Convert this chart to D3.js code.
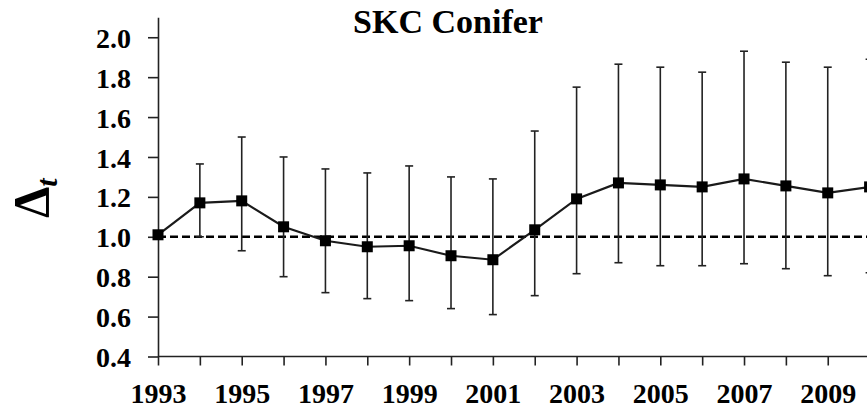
<!DOCTYPE html>
<html>
<head>
<meta charset="utf-8">
<script src="https://cdn.jsdelivr.net/npm/d3@7"></script>
<style>
  body { margin: 0; background: #fff; }
  svg { display: block; font-family: "Liberation Serif", "Times New Roman", serif; }
  .axis path, .axis line { stroke: #222; stroke-width: 1.6px; }
  .axis text { font-size: 28px; font-weight: bold; fill: #000; }
</style>
</head>
<body>
<div id="chart"></div>
<script>
// years on the x axis
var years = [1993, 1994, 1995, 1996, 1997, 1998, 1999, 2000, 2001, 2002,
  2003, 2004, 2005, 2006, 2007, 2008, 2009, 2010];
// Delta_t values
var delta = [1.01, 1.17, 1.18, 1.05, 0.98, 0.95, 0.955, 0.905, 0.885, 1.035,
  1.19, 1.27, 1.26, 1.25, 1.29, 1.255, 1.22, 1.25];
// error bar ends
var upper = [1.01, 1.365, 1.50, 1.40, 1.34, 1.32, 1.355, 1.30, 1.29, 1.53,
  1.75, 1.865, 1.85, 1.825, 1.93, 1.875, 1.85, 1.89];
var lower = [1.01, 1.00, 0.93, 0.80, 0.72, 0.69, 0.68, 0.64, 0.61, 0.705,
  0.815, 0.87, 0.855, 0.855, 0.865, 0.84, 0.805, 0.82];
// y tick labels
var yTicks = [0.4, 0.6, 0.8, 1.0, 1.2, 1.4, 1.6, 1.8, 2.0];
var baseline = 1.0;
var title = "SKC Conifer";

var w = 867, h = 408;
var serif = '"Liberation Serif", "Times New Roman", serif';

var svg = d3.select("#chart").append("svg")
  .attr("width", w)
  .attr("height", h);

var x = d3.scaleLinear().domain([1993, 2010]).range([158, 869.6]);
var y = d3.scaleLinear().domain([0.4, 2.1]).range([356.5, 17.3]);

var data = years.map(function(d, i) {
  return { year: d, v: delta[i], hi: upper[i], lo: lower[i] };
});

// y axis
var yAxis = svg.append("g")
  .attr("class", "axis")
  .attr("transform", "translate(" + x(1993) + ",0)")
  .call(d3.axisLeft(y).tickValues(yTicks).tickSize(10).tickSizeOuter(0).tickPadding(17)
    .tickFormat(d3.format(".1f")))
  .attr("font-family", serif);
yAxis.selectAll("text").attr("dy", "0.36em");

// x axis
var xAxis = svg.append("g")
  .attr("class", "axis")
  .attr("transform", "translate(0," + y(0.4) + ")")
  .call(d3.axisBottom(x).tickValues(years).tickSize(9).tickSizeOuter(0).tickPadding(18)
    .tickFormat(function(d) { return d % 2 === 1 ? d : ""; }))
  .attr("font-family", serif);
xAxis.select(".domain").attr("d", "M" + x(1993) + ",0H" + (w + 20));

// dashed reference line at 1.0
svg.append("line")
  .attr("x1", x(1993)).attr("x2", w + 20)
  .attr("y1", y(baseline)).attr("y2", y(baseline))
  .attr("stroke", "#000")
  .attr("stroke-width", 2.4)
  .attr("stroke-dasharray", "8,4");

// error bars
var bars = svg.append("g").attr("class", "errbars")
  .selectAll("g")
  .data(data.filter(function(d) { return d.hi > d.lo; }))
  .enter().append("g")
  .attr("stroke", "#222")
  .attr("stroke-width", 1.6);

bars.append("line")
  .attr("x1", function(d) { return x(d.year); })
  .attr("x2", function(d) { return x(d.year); })
  .attr("y1", function(d) { return y(d.hi); })
  .attr("y2", function(d) { return y(d.lo); });
bars.append("line")
  .attr("x1", function(d) { return x(d.year) - 4; })
  .attr("x2", function(d) { return x(d.year) + 4; })
  .attr("y1", function(d) { return y(d.hi); })
  .attr("y2", function(d) { return y(d.hi); });
bars.append("line")
  .attr("x1", function(d) { return x(d.year) - 4; })
  .attr("x2", function(d) { return x(d.year) + 4; })
  .attr("y1", function(d) { return y(d.lo); })
  .attr("y2", function(d) { return y(d.lo); });

// the series line
var line = d3.line()
  .x(function(d) { return x(d.year); })
  .y(function(d) { return y(d.v); });

svg.append("path")
  .datum(data)
  .attr("fill", "none")
  .attr("stroke", "#1a1a1a")
  .attr("stroke-width", 2.2)
  .attr("d", line);

// square markers
svg.append("g").selectAll("rect")
  .data(data)
  .enter().append("rect")
  .attr("x", function(d) { return x(d.year) - 5.5; })
  .attr("y", function(d) { return y(d.v) - 5.5; })
  .attr("width", 11)
  .attr("height", 11)
  .attr("fill", "#000");

// title
svg.append("text")
  .attr("x", 448)
  .attr("y", 33)
  .attr("text-anchor", "middle")
  .attr("font-size", 34)
  .attr("font-weight", "bold")
  .text(title);

// y label: Delta with subscript t
var ylab = svg.append("text")
  .attr("transform", "translate(48,218) rotate(-90)")
  .attr("font-weight", "bold")
  .attr("font-size", 50);
ylab.append("tspan").text("\u0394");
ylab.append("tspan")
  .attr("font-size", 30)
  .attr("font-style", "italic")
  .attr("dy", 9)
  .text("t");
</script>
</body>
</html>
